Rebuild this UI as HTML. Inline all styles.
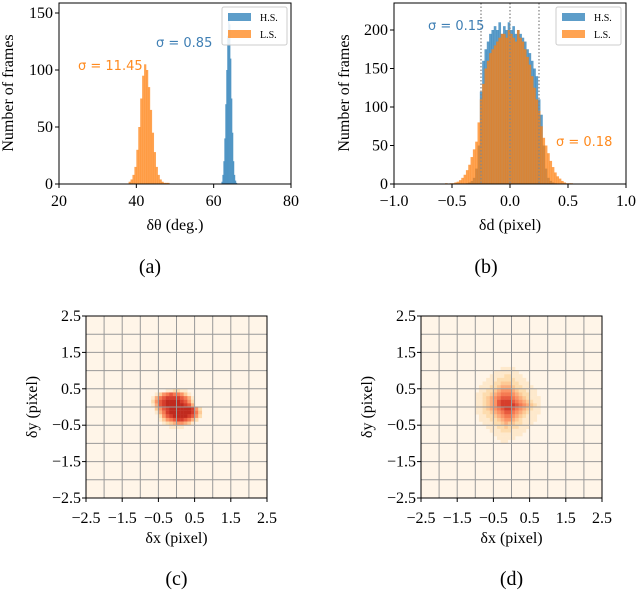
<!DOCTYPE html>
<html><head><meta charset="utf-8"><style>
body{margin:0;background:#fff}
svg text{font-family:"Liberation Serif",serif;fill:#000}
.s{font-family:"DejaVu Sans","Liberation Sans",sans-serif}
</style></head><body>
<svg id="svg" width="636" height="594" viewBox="0 0 636 594" xmlns="http://www.w3.org/2000/svg"></svg>
<script>
// Panel (a) data
const aLSStart = 38, aLSWidth = 0.5;
const aLSCounts = [2,4,8,15,30,50,75,95,105,100,85,65,45,28,15,8,4,2,1,1,1,0,0];
const aHSStart = 62, aHSWidth = 0.25;
const aHSCounts = [2,8,20,40,70,100,130,150,140,110,75,45,20,8,3,1];
const aXTicks = [20,40,60,80];
const aYTicks = [0,50,100,150];
// Panel (b) data
const bStart = -0.6, bWidth = 0.02;
const bHSCounts = [0,0,0,0,0,0,0,0,0,0,0,1,2,4,8,20,50,120,160,175,185,195,200,205,200,210,195,205,200,210,200,205,195,200,195,190,185,175,170,160,150,140,110,90,50,20,8,4,2,1,0,0,0,0,0,0,0,0,0,0];
const bLSCounts = [0,0,1,0,1,1,2,3,5,8,12,18,25,35,45,55,80,110,130,150,160,170,175,180,185,190,195,195,190,200,195,190,185,200,190,185,175,165,155,140,125,110,95,75,60,50,40,30,22,15,10,7,4,2,1,1,1,0,0,0];
const bXTicks = [-1.0,-0.5,0.0,0.5,1.0];
const bYTicks = [0,50,100,150,200];
const bDotted = [-0.25,0,0.25];
// Heatmaps (rows top->bottom, 0.1 bins, intensity 0-9)
const cX0 = -0.9, cY0 = 0.6;
const cRows = ["000000000000000000","000000112211000000","000135676653100000","001467888876410000","002578999987520000","001478999998740000","000357899999985200","000146899999986300","000025789999875200","000013567887642000","000001234554310000","000000011110000000"];
const dX0 = -1.2, dY0 = 1.1;
const dRows = ["0000000001111000000000","0000000111111100000000","0000001111221110000000","0000011122222111000000","0000111223332211100000","0001112234443221110000","0001122345554322111000","0011223456665432211000","0011234567776543211100","0011234578887654321100","0011234578888765432100","0011234567887654321100","0011223456776543211100","0001122345665432111000","0001112234554321111000","0000111223433221110000","0000011122322211100000","0000001112221111000000","0000000111111110000000","0000000011111000000000","0000000001100000000000","0000000000000000000000"];
const hTicks = [-2.5,-1.5,-0.5,0.5,1.5,2.5];
const gridVals = [-2,-1.5,-1,-0.5,0,0.5,1,1.5,2];

const NS="http://www.w3.org/2000/svg", svg=document.getElementById('svg');
function mk(tag,attrs,parent){const e=document.createElementNS(NS,tag);for(const k in attrs)e.setAttribute(k,attrs[k]);(parent||svg).appendChild(e);return e;}
function txt(s,x,y,size,anchor,parent,extra){const t=mk('text',Object.assign({x:x,y:y,'font-size':size,'text-anchor':anchor||'middle'},extra||{}),parent);t.textContent=s;return t;}
const fmt=v=>(v<0?'\u2212':'')+Math.abs(v).toFixed(1);
const FS=16;

// ---------- Panel a ----------
(function(){
 const g=mk('g',{});
 
 
 const x0=59,x1=291,yb=184,yt=3;
 const X=v=>x0+(v-20)/60*(x1-x0), Y=v=>yb-v*(171/150);
 aLSCounts.forEach((c,i)=>{const r=mk('rect',{x:X(aLSStart+i*aLSWidth),y:Y(c),width:X(aLSWidth)-X(0)+0.3,height:yb-Y(c),fill:'#ff7f0e','fill-opacity':0.72},g);
  });
 aHSCounts.forEach((c,i)=>{const r=mk('rect',{x:X(aHSStart+i*aHSWidth),y:Y(c),width:X(aHSWidth)-X(0)+0.3,height:yb-Y(c),fill:'#1f77b4','fill-opacity':0.72},g);
  });
 mk('rect',{x:x0,y:yt,width:x1-x0,height:yb-yt,fill:'none',stroke:'#000','stroke-width':1},g);
 aXTicks.forEach(v=>{mk('line',{x1:X(v),x2:X(v),y1:yb,y2:yb+4,stroke:'#000'},g);txt(String(v),X(v),206,FS,'middle',g);});
 aYTicks.forEach(v=>{mk('line',{x1:x0-4,x2:x0,y1:Y(v),y2:Y(v),stroke:'#000'},g);txt(String(v),x0-6,Y(v)+5,FS,'end',g);});
 const xl=txt('δθ (deg.)',175,230,FS,'middle',g);
 const yl=txt('Number of frames',0,0,FS,'middle',g,{transform:'translate(13,93) rotate(-90)'});
 txt('σ = 0.85',156,47,13,'start',g,{class:'s',style:'fill:#3f7fb4'});
 txt('σ = 11.45',78,70,13,'start',g,{class:'s',style:'fill:#ff8a1e'});
 const lg=mk('g',{},g);
 mk('rect',{x:222,y:7,width:65,height:38,fill:'#fff','fill-opacity':0.85,stroke:'#ccc',rx:2},lg);
 mk('rect',{x:228,y:13,width:23,height:8,fill:'#1f77b4','fill-opacity':0.72},lg);
 mk('rect',{x:228,y:30,width:23,height:8,fill:'#ff7f0e','fill-opacity':0.72},lg);
 txt('H.S.',260,21,10,'start',lg);txt('L.S.',260,38,10,'start',lg);
 txt('(a)',150,273,20,'middle',g);
})();

// ---------- Panel b ----------
(function(){
 const g=mk('g',{});
 
 
 const x0=394,x1=626,yb=184,yt=3;
 const X=v=>x0+(v+1)/2*(x1-x0), Y=v=>yb-v*0.77;
 const w=X(bWidth)-X(0);
 bHSCounts.forEach((c,i)=>{const r=mk('rect',{x:X(bStart+i*bWidth),y:Y(c),width:w+0.3,height:yb-Y(c),fill:'#1f77b4','fill-opacity':0.72},g);
  });
 bLSCounts.forEach((c,i)=>{const r=mk('rect',{x:X(bStart+i*bWidth),y:Y(c),width:w+0.3,height:yb-Y(c),fill:'#ff7f0e','fill-opacity':0.72},g);
  });
 bDotted.forEach(v=>{const l=mk('line',{x1:X(v),x2:X(v),y1:yt,y2:yb,stroke:'#888','stroke-dasharray':'1.5,2','stroke-width':1.3},g);
  });
 mk('rect',{x:x0,y:yt,width:x1-x0,height:yb-yt,fill:'none',stroke:'#000','stroke-width':1},g);
 bXTicks.forEach(v=>{mk('line',{x1:X(v),x2:X(v),y1:yb,y2:yb+4,stroke:'#000'},g);txt(fmt(v),X(v),206,FS,'middle',g);});
 bYTicks.forEach(v=>{mk('line',{x1:x0-4,x2:x0,y1:Y(v),y2:Y(v),stroke:'#000'},g);txt(String(v),x0-6,Y(v)+5,FS,'end',g);});
 const xl=txt('δd (pixel)',510,230,FS,'middle',g);
 const yl=txt('Number of frames',0,0,FS,'middle',g,{transform:'translate(349,93) rotate(-90)'});
 txt('σ = 0.15',428,30,13,'start',g,{class:'s',style:'fill:#3f7fb4'});
 txt('σ = 0.18',556,146,13,'start',g,{class:'s',style:'fill:#ff8a1e'});
 const lg=mk('g',{},g);
 mk('rect',{x:556,y:7,width:65,height:38,fill:'#fff','fill-opacity':0.85,stroke:'#ccc',rx:2},lg);
 mk('rect',{x:562,y:13,width:23,height:8,fill:'#1f77b4','fill-opacity':0.72},lg);
 mk('rect',{x:562,y:30,width:23,height:8,fill:'#ff7f0e','fill-opacity':0.72},lg);
 txt('H.S.',594,21,10,'start',lg);txt('L.S.',594,38,10,'start',lg);
 txt('(b)',486,273,20,'middle',g);
})();

// ---------- Heatmaps ----------
const cmap=['#fff5e8','#fee9cc','#fddcae','#fdc995','#fcae7d','#fb9466','#f57a52','#e85a3e','#d63e2c','#c02a1e'];
function heat(name,ox,x0v,y0v,rows,label,ylabX){
 const g=mk('g',{});
 
 
 const x0=ox,x1=ox+181,yt=316,yb=498;
 const X=v=>x0+(v+2.5)/5*(x1-x0), Y=v=>yb-(v+2.5)/5*(yb-yt);
 mk('rect',{x:x0,y:yt,width:x1-x0,height:yb-yt,fill:'#fff5e8'},g);
 const cw=X(0.1)-X(0);
 rows.forEach((row,ri)=>{[...row].forEach((ch,ci)=>{const k=+ch;if(!k)return;
  const r=mk('rect',{x:X(x0v+ci*0.1),y:Y(y0v-ri*0.1),width:cw+0.2,height:cw+0.2,fill:cmap[k]},g);
  });});
 gridVals.forEach(v=>{mk('line',{x1:X(v),x2:X(v),y1:yt,y2:yb,stroke:'#999','stroke-width':1},g);mk('line',{x1:x0,x2:x1,y1:Y(v),y2:Y(v),stroke:'#999','stroke-width':1},g);});
 mk('rect',{x:x0,y:yt,width:x1-x0,height:yb-yt,fill:'none',stroke:'#000','stroke-width':1},g);
 hTicks.forEach(v=>{mk('line',{x1:X(v),x2:X(v),y1:yb,y2:yb+4,stroke:'#000'},g);txt(fmt(v),X(v),523,FS,'middle',g);
  mk('line',{x1:x0-4,x2:x0,y1:Y(v),y2:Y(v),stroke:'#000'},g);txt(fmt(v),x0-5,Y(v)+5,FS,'end',g);});
 const xl=txt('δx (pixel)',(x0+x1)/2,543,FS,'middle',g);
 const yl=txt('δy (pixel)',0,0,FS,'middle',g,{transform:`translate(${ylabX},407) rotate(-90)`});
 txt(label,(x0+x1)/2,585,20,'middle',g);
}
heat('panel-c',86,cX0,cY0,cRows,'(c)',37);
heat('panel-d',421,dX0,dY0,dRows,'(d)',372);
</script>
</body></html>
